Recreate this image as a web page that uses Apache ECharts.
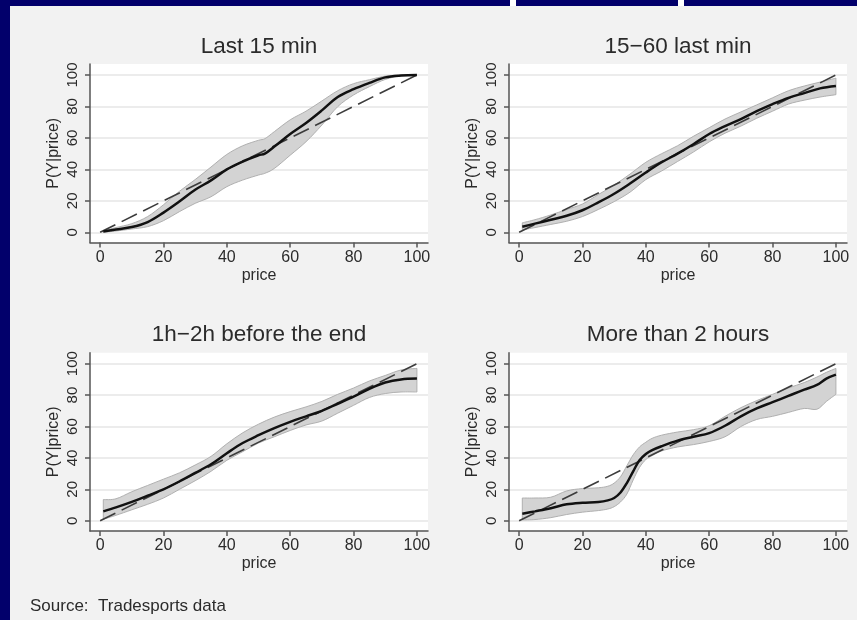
<!DOCTYPE html>
<html>
<head>
<meta charset="utf-8">
<script src="https://cdn.jsdelivr.net/npm/echarts@6/dist/echarts.min.js"></script>
<style>
  html, body { margin: 0; padding: 0; background: #f2f2f2; }
  #chart { width: 857px; height: 620px; }
</style>
</head>
<body>
<div id="chart"></div>
<script>
const panelTitles = ['Last 15 min', '15\u221260 last min', '1h\u22122h before the end', 'More than 2 hours']
const xTicks = [0, 20, 40, 60, 80, 100]
const yTicks = [0, 20, 40, 60, 80, 100]
const diagonal = [[0, 0], [100, 100]]

// Last 15 min
const p1Price = [1, 5, 10, 15, 20, 25, 30, 35, 40, 45, 50, 52, 55, 60, 65, 70, 75, 80, 85, 90, 95, 100]
const p1Fit = [0.5, 1.8, 3.3, 6.5, 12.5, 19.5, 27, 33, 40, 45, 49, 50, 54.5, 62.5, 69.5, 77.5, 86, 91, 95, 98.5, 99.7, 100]
const p1Upper = [1, 3, 5.5, 10, 17.5, 26, 33.5, 41.5, 49.5, 55, 58.5, 59.5, 64, 71.5, 77, 83.5, 90, 94.5, 97, 99.3, 100, 100]
const p1Lower = [0, 0.8, 2.1, 3.6, 7.4, 13.1, 18.4, 22.6, 29, 33.2, 36.4, 37.5, 40.6, 49, 57.6, 68.2, 79.9, 87.3, 92.6, 97.2, 99.5, 100]

// 15-60 last min
const p2Price = [1, 5, 10, 15, 20, 25, 30, 35, 40, 45, 50, 55, 60, 65, 70, 75, 80, 85, 90, 95, 100]
const p2Fit = [3.5, 5.5, 8, 10.5, 14, 19, 24.5, 31, 38, 44.5, 50, 56, 62.5, 67.5, 72, 77, 81.5, 85.5, 88.5, 91.5, 93]
const p2Upper = [6, 8, 11, 14.5, 18, 24, 30, 37, 44.5, 50, 55, 61, 66.5, 72, 76.5, 81, 85.5, 90, 93, 95.5, 98]
const p2Lower = [1.5, 3, 5, 7, 10, 14.5, 19.5, 25.5, 33.5, 39, 45, 51, 57.5, 63, 67.5, 72.5, 77, 81.5, 84, 86, 87.5]

// 1h-2h before the end
const p3Price = [1, 5, 10, 15, 20, 25, 30, 35, 40, 45, 50, 55, 60, 65, 70, 75, 80, 85, 90, 95, 100]
const p3Fit = [6, 8.5, 12, 16, 20, 25, 30.5, 36, 43, 49.5, 54.5, 59, 63, 66.5, 70, 74.5, 79, 84, 88, 90, 90.5]
const p3Upper = [13.5, 14, 18.5, 22.5, 26.5, 30.5, 35.5, 41, 49, 56, 61.5, 66, 69.5, 72.5, 76, 80.5, 84.5, 89, 92.5, 96, 97]
const p3Lower = [1, 3.5, 7, 10.5, 14.5, 20, 25.5, 31.5, 38.5, 44, 49.5, 53.5, 57.5, 61, 63.5, 68.5, 73.5, 78.5, 81, 82, 82]

// More than 2 hours
const p4Price = [1, 5, 10, 15, 20, 25, 28, 30, 32, 34, 36, 38, 40, 42, 45, 50, 55, 60, 65, 70, 75, 80, 85, 90, 94, 97, 100]
const p4Fit = [4.5, 6, 8, 10.5, 11.5, 12, 13, 14.5, 18, 24, 31.5, 38.5, 42.5, 45, 47.5, 51, 53.5, 55.8, 60.5, 66.5, 71.5, 75.5, 79.5, 83.5, 86.5, 90.5, 93]
const p4Upper = [14.5, 14.5, 15, 19, 20.5, 21, 22, 24, 28, 35, 42, 47, 50, 52.5, 54.5, 56.5, 58, 60.5, 66.5, 72, 76.5, 80.5, 84.5, 88, 91.5, 94.5, 97]
const p4Lower = [0.5, 0.8, 2, 4, 5.5, 6.5, 7.5, 9, 12, 17, 26, 34, 39, 41.5, 44.5, 47, 48.5, 50.5, 53.5, 60, 64.5, 66.5, 69, 71.5, 71, 76, 80.5]

const panels = [
  { price: p1Price, fit: p1Fit, upper: p1Upper, lower: p1Lower },
  { price: p2Price, fit: p2Fit, upper: p2Upper, lower: p2Lower },
  { price: p3Price, fit: p3Fit, upper: p3Upper, lower: p3Lower },
  { price: p4Price, fit: p4Fit, upper: p4Upper, lower: p4Lower },
]

const FONT = '"Liberation Sans", Arial, sans-serif'
const TEXT = '#2b2b2b'
const AXIS = '#555555'
const NAVY = '#02006b'

const gridBoxes = [
  { left: 90, top: 64, width: 338, height: 178.5 },
  { left: 509, top: 64, width: 338, height: 178.5 },
  { left: 90, top: 352.7, width: 338, height: 178.3 },
  { left: 509, top: 352.7, width: 338, height: 178.3 },
]

// catmull-rom edge through the band points, in pixel space
function smoothSegments(pts) {
  let d = ''
  for (let i = 0; i < pts.length - 1; i++) {
    const p0 = pts[Math.max(i - 1, 0)]
    const p1 = pts[i]
    const p2 = pts[i + 1]
    const p3 = pts[Math.min(i + 2, pts.length - 1)]
    const c1x = p1[0] + (p2[0] - p0[0]) / 6
    const c1y = p1[1] + (p2[1] - p0[1]) / 6
    const c2x = p2[0] - (p3[0] - p1[0]) / 6
    const c2y = p2[1] - (p3[1] - p1[1]) / 6
    d += ` C ${c1x} ${c1y} ${c2x} ${c2y} ${p2[0]} ${p2[1]}`
  }
  return d
}

function bandSeries(i, p) {
  const rows = p.price.map((x, k) => [x, p.lower[k], p.upper[k]])
  return {
    type: 'custom',
    xAxisIndex: i,
    yAxisIndex: i,
    silent: true,
    z: 2,
    encode: { x: 0, y: [1, 2] },
    data: rows,
    renderItem: (params, api) => {
      if (params.dataIndex !== 0) return null
      const top = rows.map((r) => api.coord([r[0], r[2]]))
      const bottom = rows.map((r) => api.coord([r[0], r[1]])).reverse()
      const d = `M ${top[0][0]} ${top[0][1]}` + smoothSegments(top) +
        ` L ${bottom[0][0]} ${bottom[0][1]}` + smoothSegments(bottom) + ' Z'
      return {
        type: 'path',
        shape: { pathData: d },
        style: { fill: '#d3d3d3', stroke: '#b0b0b0', lineWidth: 1 },
      }
    },
  }
}

const grids = gridBoxes.map((b) => ({
  ...b,
  show: true,
  backgroundColor: '#ffffff',
  borderWidth: 0,
  containLabel: false,
}))

const xAxes = gridBoxes.map((_, i) => ({
  type: 'value',
  gridIndex: i,
  min: -3.2,
  max: 103.5,
  name: 'price',
  nameLocation: 'middle',
  nameGap: 25,
  nameTextStyle: { color: TEXT, fontSize: 16, fontFamily: FONT },
  axisLine: { show: true, onZero: false, lineStyle: { color: AXIS, width: 1.5 } },
  axisTick: { show: true, length: 5, customValues: xTicks, lineStyle: { color: AXIS, width: 1.5 } },
  axisLabel: { customValues: xTicks, margin: 7, color: TEXT, fontSize: 16, fontFamily: FONT },
  splitLine: { show: false },
}))

const yAxes = gridBoxes.map((_, i) => ({
  type: 'value',
  gridIndex: i,
  min: -6.5,
  max: 107,
  name: 'P(Y|price)',
  nameLocation: 'middle',
  nameGap: 28,
  nameRotate: 90,
  nameTextStyle: { color: TEXT, fontSize: 16, fontFamily: FONT },
  axisLine: { show: true, onZero: false, lineStyle: { color: AXIS, width: 1.5 } },
  axisTick: { show: true, length: 5, customValues: yTicks, lineStyle: { color: AXIS, width: 1.5 } },
  axisLabel: { customValues: yTicks, rotate: 90, margin: 10, color: TEXT, fontSize: 15, fontFamily: FONT },
  splitLine: { show: true, lineStyle: { color: '#e6e6e6', width: 1.5 } },
}))

const series = []
panels.forEach((p, i) => {
  series.push(bandSeries(i, p))
  series.push({
    type: 'line',
    xAxisIndex: i,
    yAxisIndex: i,
    data: diagonal,
    symbol: 'none',
    silent: true,
    z: 3,
    lineStyle: { color: '#3c3c3c', width: 1.6, type: [17, 7] },
  })
  series.push({
    type: 'line',
    xAxisIndex: i,
    yAxisIndex: i,
    data: p.price.map((x, k) => [x, p.fit[k]]),
    symbol: 'none',
    smooth: 0.35,
    silent: true,
    z: 4,
    lineStyle: { color: '#111111', width: 2.5 },
  })
})

const titleCenters = [[259, 47], [678, 47], [259, 335], [678, 335]]

const graphic = [
  // slide frame bits
  { type: 'rect', left: 0, top: 0, shape: { width: 10, height: 620 }, style: { fill: NAVY }, z: 10 },
  { type: 'rect', left: 0, top: 0, shape: { width: 510, height: 6 }, style: { fill: NAVY }, z: 10 },
  { type: 'rect', left: 510, top: 0, shape: { width: 6, height: 6 }, style: { fill: '#ffffff' }, z: 10 },
  { type: 'rect', left: 516, top: 0, shape: { width: 162, height: 6 }, style: { fill: NAVY }, z: 10 },
  { type: 'rect', left: 678, top: 0, shape: { width: 6, height: 6 }, style: { fill: '#ffffff' }, z: 10 },
  { type: 'rect', left: 684, top: 0, shape: { width: 173, height: 6 }, style: { fill: NAVY }, z: 10 },
  ...panelTitles.map((t, i) => ({
    type: 'text',
    x: titleCenters[i][0],
    y: titleCenters[i][1],
    style: {
      text: t, align: 'center', verticalAlign: 'middle', textAlign: 'center', textVerticalAlign: 'middle',
      fill: TEXT, fontSize: 22.5, fontFamily: FONT,
    },
  })),
  {
    type: 'text',
    x: 30,
    y: 606,
    style: {
      text: 'Source:  Tradesports data', align: 'left', verticalAlign: 'middle', textVerticalAlign: 'middle',
      fill: TEXT, fontSize: 17, fontFamily: FONT,
    },
  },
]

const chart = echarts.init(document.getElementById('chart'))
chart.setOption({
  backgroundColor: '#f2f2f2',
  animation: false,
  grid: grids,
  xAxis: xAxes,
  yAxis: yAxes,
  series,
  graphic,
})
</script>
</body>
</html>
